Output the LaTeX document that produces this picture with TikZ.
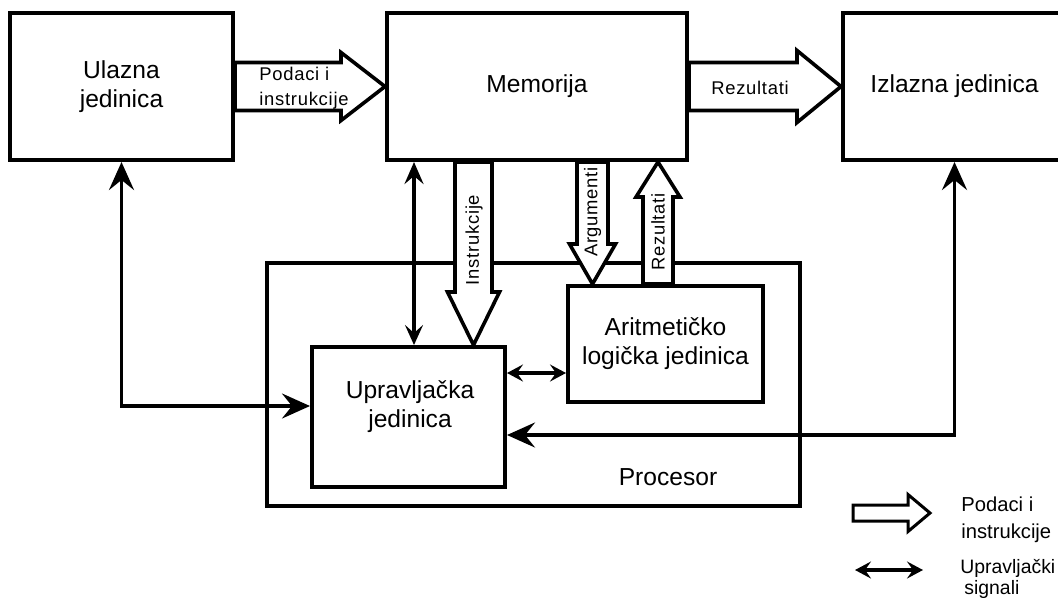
\documentclass[tikz,border=0pt]{standalone}
\usepackage{fontspec}
\setmainfont{Liberation Sans}
\newfontfamily\spacedfont[LetterSpace=4]{Liberation Sans}
\usetikzlibrary{arrows.meta,calc}

\tikzset{
  % outlined broad arrow from start to target: shaft half width, head half width, head length
  fat/.style n args={3}{draw,line width=1.8pt,fill=white,line join=miter,
    to path={($(\tikztotarget)!#3!(\tikztostart)$) coordinate (fh)
      ($(\tikztostart)!#1!90:(\tikztotarget)$) -- ($(fh)!#1!90:(\tikztotarget)$)
      -- ($(fh)!#2!90:(\tikztotarget)$) -- (\tikztotarget)
      -- ($(fh)!#2!-90:(\tikztotarget)$) -- ($(fh)!#1!-90:(\tikztotarget)$)
      -- ($(\tikztostart)!#1!-90:(\tikztotarget)$) -- cycle}},
}

\begin{document}
\begin{tikzpicture}[x=0.5pt,y=-0.5pt,
  blok/.style={draw,line width=2pt,align=center,font=\fontsize{12.3}{14.5}\selectfont},
  sig/.style={line width=1.7pt,
    {Stealth[length=14pt,width=12.5pt,inset=5pt]}-{Stealth[length=14pt,width=12.5pt,inset=5pt]}},
  sigm/.style={line width=1.7pt,
    {Stealth[length=11pt,width=9.5pt,inset=4pt]}-{Stealth[length=10pt,width=9pt,inset=4pt]}},
  sigs/.style={line width=1.7pt,
    {Stealth[length=8pt,width=8.5pt,inset=3pt]}-{Stealth[length=8pt,width=8.5pt,inset=3pt]}},
  lab/.style={font=\spacedfont\fontsize{9.2}{12.5}\selectfont,inner sep=0pt},
  leg/.style={font=\fontsize{10.1}{13.5}\selectfont,align=left,inner sep=0pt,anchor=west}]
  \useasboundingbox (0,0) rectangle (1058,601);

  % units
  \node[blok,minimum width=111.5pt,minimum height=73.5pt] (ul) at (121.5,86.5) {Ulazna\\jedinica};
  \node[blok,minimum width=150pt,minimum height=73.5pt] (mem) at (537,86.5) {Memorija};
  \node[blok,minimum width=111.5pt,minimum height=73.5pt] (izl) at (954.5,86.5) {Izlazna jedinica};
  \node[blok,line width=1.7pt,minimum width=266.5pt,minimum height=121.5pt] (proc) at (533.5,384.5) {};
  \node[font=\fontsize{12.3}{14.5}\selectfont] (proclab) at (668,477) {Procesor};
  \node[blok,minimum width=96.5pt,minimum height=70pt] (upr) at (408.5,417) {};
  \node[blok,draw=none,inner sep=0pt] (uprlab) at (410,407) {Upravljačka\\jedinica};
  \node[blok,minimum width=97.5pt,minimum height=58pt] (alu) at (665.5,344) {Aritmetičko\\logička jedinica};

  % control signals
  \draw[sig] (ul.south) |- ($(upr.west)+(0,-11)$);
  \draw[sig] (izl.south) |- ($(upr.east)+(0,18)$);
  \draw[sigm] ($(mem.south)+(-123,0)$) coordinate (mu) -- (mu |- upr.north);
  \coordinate (ua) at ($(alu.west)+(0,29)$);
  \draw[sigs] (upr.east |- ua) -- (ua);

  % data and instructions
  \draw[fat={12pt}{17pt}{22pt}] (ul.east) to (mem.west);
  \draw[fat={12pt}{18pt}{22pt}] (mem.east) to (izl.west);
  \coordinate (ins) at ($(mem.south)+(-63.5,0)$);
  \coordinate (arg) at ($(mem.south)+(55.5,0)$);
  \coordinate (rez) at ($(mem.south)+(121,0)$);
  \draw[fat={9.25pt}{13pt}{26.5pt}] (ins) to (ins |- upr.north);
  \draw[fat={7.75pt}{11.5pt}{20pt}] (arg) to (arg |- alu.north);
  \draw[fat={7.5pt}{11pt}{17.5pt}] (rez |- alu.north) to (rez);

  \node[lab,align=left,anchor=west] (t1) at (259,88) {Podaci i\\instrukcije};
  \node[lab] (t2) at (750,88) {Rezultati};
  \node[lab,rotate=90] (t3) at (474,240) {Instrukcije};
  \node[lab,rotate=90] (t4) at (592.5,212) {Argumenti};
  \node[lab,rotate=90] (t5) at (658,232) {Rezultati};

  % legend
  \coordinate (lg1a) at (853,513);
  \coordinate (lg1b) at (930,513);
  \draw[fat={4pt}{9.25pt}{11pt},line width=1.5pt] (lg1a) to (lg1b);
  \node[leg] (lt1) at (961,520) {Podaci i\\instrukcije};
  \coordinate (lg2a) at (855,570);
  \coordinate (lg2b) at (923,570);
  \draw[sigs] (lg2a) -- (lg2b);
  \node[leg,font=\fontsize{9.7}{10.5}\selectfont] (lt2) at (960,579) {Upravljački\\\hspace*{2pt}signali};
\end{tikzpicture}
\end{document}
